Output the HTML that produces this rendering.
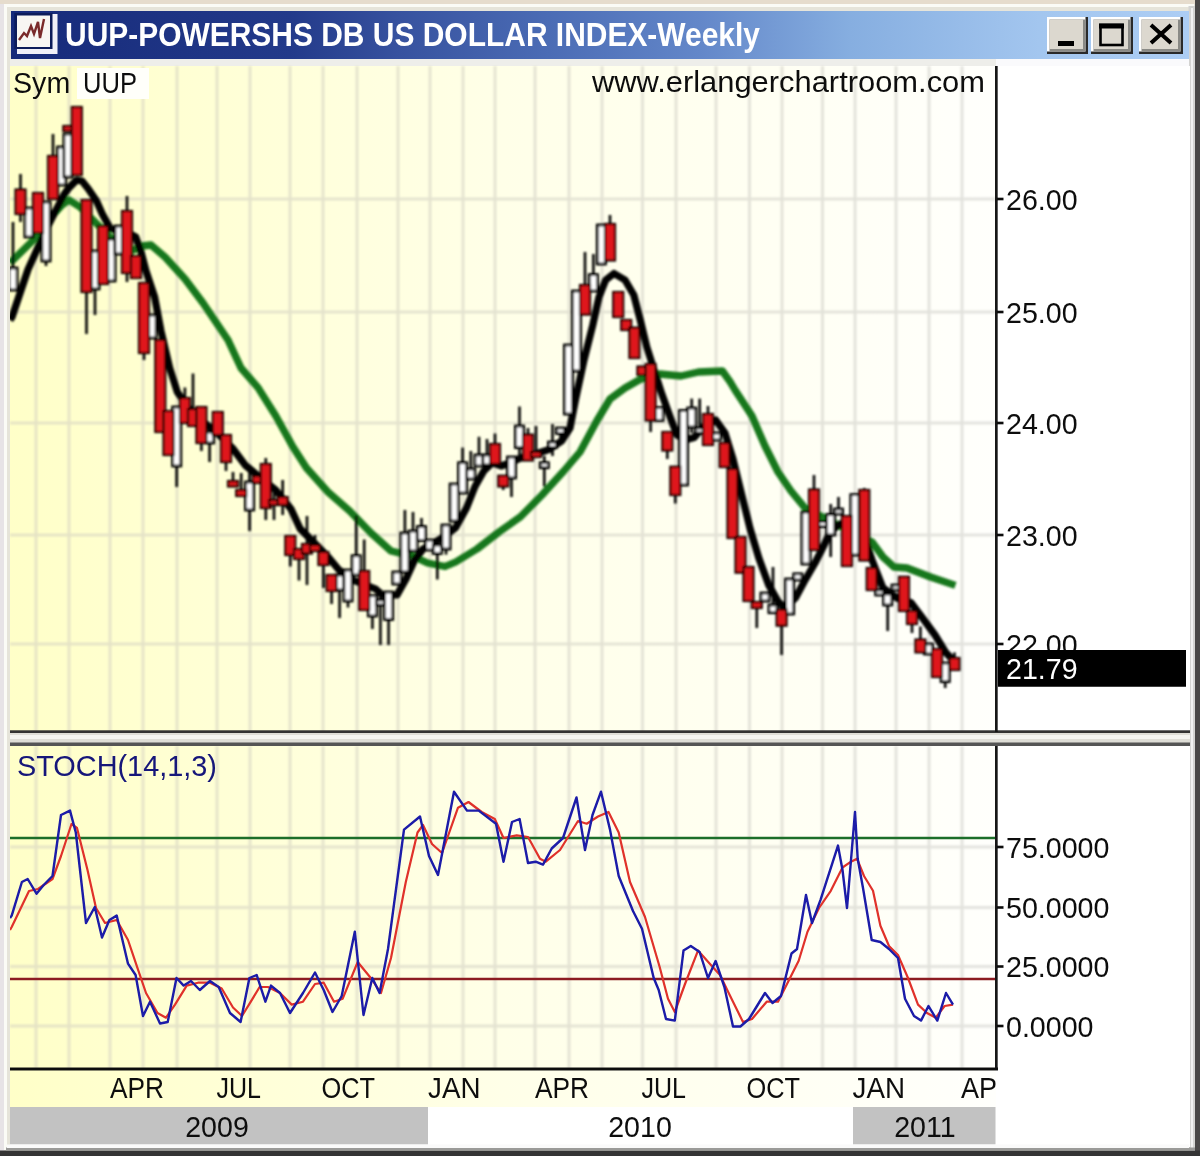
<!DOCTYPE html>
<html><head><meta charset="utf-8"><title>UUP</title>
<style>
html,body{margin:0;padding:0;background:#e6e4da;}
body{width:1200px;height:1156px;overflow:hidden;position:relative;font-family:"Liberation Sans",sans-serif;}
svg{position:absolute;left:0;top:0;display:block}
text{font-family:"Liberation Sans",sans-serif;}
</style></head><body>
<svg width="1200" height="1156" viewBox="0 0 1200 1156">
<defs>
<linearGradient id="tb" x1="0" x2="1" y1="0" y2="0"><stop offset="0" stop-color="#162a7a"/><stop offset="0.237" stop-color="#233a8a"/><stop offset="0.33" stop-color="#37529f"/><stop offset="0.457" stop-color="#4b6cb5"/><stop offset="0.585" stop-color="#6387c9"/><stop offset="0.712" stop-color="#86aee0"/><stop offset="0.873" stop-color="#a3c6ef"/><stop offset="1" stop-color="#accdf4"/></linearGradient>
<linearGradient id="bg" x1="0" x2="1" y1="0" y2="0"><stop offset="0" stop-color="#ffffc8"/><stop offset="0.5" stop-color="#ffffe8"/><stop offset="1" stop-color="#fffffc"/></linearGradient>
<filter id="bl" x="-2%" y="-2%" width="104%" height="104%"><feGaussianBlur stdDeviation="0.9"/></filter>
<filter id="bl2" x="-2%" y="-2%" width="104%" height="104%"><feGaussianBlur stdDeviation="0.7"/></filter>
<clipPath id="cm"><rect x="10" y="66" width="986" height="666"/></clipPath>
<clipPath id="cs"><rect x="10" y="746" width="986" height="323"/></clipPath>
</defs>

<rect x="0" y="0" width="1200" height="1156" fill="#e6e4da"/>
<rect x="0" y="0" width="4" height="1156" fill="#e7e3e6"/>
<rect x="0" y="0" width="1200" height="4" fill="#e6dccd"/>
<rect x="4" y="4" width="1190" height="3" fill="#fbfbf6"/>
<rect x="4" y="4" width="3" height="1146" fill="#fbfbf6"/>
<rect x="1195" y="0" width="5" height="1156" fill="#4a4848"/>
<rect x="1188.5" y="6" width="6.5" height="1146" fill="#d4d4d2"/>
<rect x="1191" y="8" width="2" height="1140" fill="#f2f2f2"/>
<rect x="0" y="1150.5" width="1200" height="5.5" fill="#343434"/>
<rect x="6" y="1147.5" width="1189" height="3" fill="#9a9a98"/>
<rect x="11" y="11" width="1178" height="48" fill="url(#tb)"/>
<rect x="10" y="59" width="986" height="7" fill="#eeeeea"/>
<rect x="996" y="59" width="193" height="7" fill="#fafafc"/>
<rect x="10" y="66" width="1180" height="1081" fill="#ffffff"/>
<rect x="10" y="66" width="986" height="666" fill="url(#bg)"/>
<rect x="10" y="746" width="986" height="323" fill="url(#bg)"/>
<rect x="10" y="1069" width="986" height="38" fill="url(#bg)"/>
<linearGradient id="gg" gradientUnits="userSpaceOnUse" x1="10" x2="996" y1="0" y2="0"><stop offset="0" stop-color="#e5e3c4"/><stop offset="1" stop-color="#e2e2de"/></linearGradient>
<g stroke-width="2.8" filter="url(#bl)"><line x1="36" y1="66" x2="36" y2="732" stroke="#e5e3c5"/><line x1="36" y1="746" x2="36" y2="1069" stroke="#e5e3c5"/><line x1="69" y1="66" x2="69" y2="732" stroke="#e5e3c6"/><line x1="69" y1="746" x2="69" y2="1069" stroke="#e5e3c6"/><line x1="110" y1="66" x2="110" y2="732" stroke="#e5e3c7"/><line x1="110" y1="746" x2="110" y2="1069" stroke="#e5e3c7"/><line x1="143" y1="66" x2="143" y2="732" stroke="#e5e3c8"/><line x1="143" y1="746" x2="143" y2="1069" stroke="#e5e3c8"/><line x1="177" y1="66" x2="177" y2="732" stroke="#e4e3c8"/><line x1="177" y1="746" x2="177" y2="1069" stroke="#e4e3c8"/><line x1="217" y1="66" x2="217" y2="732" stroke="#e4e3c9"/><line x1="217" y1="746" x2="217" y2="1069" stroke="#e4e3c9"/><line x1="250" y1="66" x2="250" y2="732" stroke="#e4e3ca"/><line x1="250" y1="746" x2="250" y2="1069" stroke="#e4e3ca"/><line x1="290" y1="66" x2="290" y2="732" stroke="#e4e3cb"/><line x1="290" y1="746" x2="290" y2="1069" stroke="#e4e3cb"/><line x1="323" y1="66" x2="323" y2="732" stroke="#e4e3cc"/><line x1="323" y1="746" x2="323" y2="1069" stroke="#e4e3cc"/><line x1="357" y1="66" x2="357" y2="732" stroke="#e4e3cd"/><line x1="357" y1="746" x2="357" y2="1069" stroke="#e4e3cd"/><line x1="398" y1="66" x2="398" y2="732" stroke="#e4e3ce"/><line x1="398" y1="746" x2="398" y2="1069" stroke="#e4e3ce"/><line x1="430" y1="66" x2="430" y2="732" stroke="#e4e3cf"/><line x1="430" y1="746" x2="430" y2="1069" stroke="#e4e3cf"/><line x1="463" y1="66" x2="463" y2="732" stroke="#e4e3d0"/><line x1="463" y1="746" x2="463" y2="1069" stroke="#e4e3d0"/><line x1="495" y1="66" x2="495" y2="732" stroke="#e4e3d1"/><line x1="495" y1="746" x2="495" y2="1069" stroke="#e4e3d1"/><line x1="535" y1="66" x2="535" y2="732" stroke="#e3e2d2"/><line x1="535" y1="746" x2="535" y2="1069" stroke="#e3e2d2"/><line x1="569" y1="66" x2="569" y2="732" stroke="#e3e2d3"/><line x1="569" y1="746" x2="569" y2="1069" stroke="#e3e2d3"/><line x1="602" y1="66" x2="602" y2="732" stroke="#e3e2d4"/><line x1="602" y1="746" x2="602" y2="1069" stroke="#e3e2d4"/><line x1="642.5" y1="66" x2="642.5" y2="732" stroke="#e3e2d5"/><line x1="642.5" y1="746" x2="642.5" y2="1069" stroke="#e3e2d5"/><line x1="676" y1="66" x2="676" y2="732" stroke="#e3e2d6"/><line x1="676" y1="746" x2="676" y2="1069" stroke="#e3e2d6"/><line x1="716" y1="66" x2="716" y2="732" stroke="#e3e2d7"/><line x1="716" y1="746" x2="716" y2="1069" stroke="#e3e2d7"/><line x1="749.5" y1="66" x2="749.5" y2="732" stroke="#e3e2d8"/><line x1="749.5" y1="746" x2="749.5" y2="1069" stroke="#e3e2d8"/><line x1="782" y1="66" x2="782" y2="732" stroke="#e3e2d8"/><line x1="782" y1="746" x2="782" y2="1069" stroke="#e3e2d8"/><line x1="822.5" y1="66" x2="822.5" y2="732" stroke="#e3e2d9"/><line x1="822.5" y1="746" x2="822.5" y2="1069" stroke="#e3e2d9"/><line x1="855" y1="66" x2="855" y2="732" stroke="#e2e2da"/><line x1="855" y1="746" x2="855" y2="1069" stroke="#e2e2da"/><line x1="896" y1="66" x2="896" y2="732" stroke="#e2e2db"/><line x1="896" y1="746" x2="896" y2="1069" stroke="#e2e2db"/><line x1="929" y1="66" x2="929" y2="732" stroke="#e2e2dc"/><line x1="929" y1="746" x2="929" y2="1069" stroke="#e2e2dc"/><line x1="962" y1="66" x2="962" y2="732" stroke="#e2e2dd"/><line x1="962" y1="746" x2="962" y2="1069" stroke="#e2e2dd"/><rect x="10" y="197.6" width="986" height="2.8" fill="url(#gg)"/><rect x="10" y="310.6" width="986" height="2.8" fill="url(#gg)"/><rect x="10" y="421.6" width="986" height="2.8" fill="url(#gg)"/><rect x="10" y="533.6" width="986" height="2.8" fill="url(#gg)"/><rect x="10" y="642.6" width="986" height="2.8" fill="url(#gg)"/><rect x="10" y="845.6" width="986" height="2.8" fill="url(#gg)"/><rect x="10" y="906.1" width="986" height="2.8" fill="url(#gg)"/><rect x="10" y="965.1" width="986" height="2.8" fill="url(#gg)"/><rect x="10" y="1024.6" width="986" height="2.8" fill="url(#gg)"/></g>
<g clip-path="url(#cm)"><g filter="url(#bl)">
<polyline points="10.0,263.0 12.0,261.0 32.4,241.0 50.0,218.0 62.0,205.0 69.0,200.0 80.0,207.0 95.0,222.0 110.0,237.0 125.0,248.0 134.0,250.0 142.0,246.0 151.0,245.0 165.0,257.0 185.0,279.0 203.0,303.0 228.0,340.0 241.0,368.0 258.0,387.6 275.7,415.7 293.0,447.0 306.5,468.0 328.0,492.0 349.7,511.0 371.0,533.0 391.0,551.0 399.5,553.0 412.0,555.7 427.6,563.0 445.0,566.5 455.7,562.0 477.0,549.0 499.0,532.0 520.5,516.8 542.0,495.0 563.8,471.0 580.0,452.0 597.0,420.5 610.0,399.0 625.0,388.0 640.0,379.5 659.7,374.0 681.0,376.0 698.6,372.0 722.4,371.0 730.0,381.6 735.0,390.0 752.0,416.0 765.0,446.0 778.0,472.0 791.0,491.0 805.0,508.0 840.0,526.0 872.0,542.0 883.0,557.0 894.0,567.0 907.0,568.0 930.5,577.0 955.4,585.4" fill="none" stroke="#17771a" stroke-width="7.3" stroke-linejoin="round" stroke-linecap="butt"/>
<polyline points="10.0,320.0 12.0,317.0 28.0,269.5 45.0,232.0 55.0,212.0 64.0,194.6 68.4,188.4 76.7,180.0 82.0,181.0 88.0,188.4 96.4,200.8 102.3,214.0 110.0,228.0 120.0,232.0 130.0,234.0 135.7,237.0 141.0,252.0 146.0,271.0 154.6,297.0 161.0,331.0 169.7,368.0 177.3,392.0 190.0,410.0 203.0,422.0 215.0,431.0 232.4,448.0 245.4,465.4 258.4,476.0 275.7,490.0 291.0,509.0 300.0,528.6 313.0,541.6 328.0,556.8 339.0,570.0 354.0,580.5 375.7,589.0 382.0,595.0 397.0,595.0 406.0,579.0 414.6,560.0 423.0,549.0 434.0,542.7 445.0,536.0 455.7,527.6 466.5,508.0 475.0,486.5 483.8,471.0 492.4,462.7 501.0,466.0 510.0,463.0 520.5,458.0 535.7,454.0 548.6,449.7 561.6,441.0 570.0,428.0 575.4,400.0 584.0,360.0 592.7,325.4 599.0,297.0 605.7,280.0 614.0,273.5 625.0,280.0 633.8,295.0 640.0,319.0 646.8,347.0 653.0,366.5 662.0,394.6 670.5,418.0 677.0,435.0 685.0,440.0 694.0,437.6 705.0,425.0 715.7,420.0 725.0,433.0 733.0,459.0 741.5,493.8 750.0,528.4 759.0,558.6 768.5,584.6 778.4,602.0 785.0,608.0 795.7,597.6 804.0,582.0 815.0,563.0 823.8,545.7 830.0,532.0 840.0,524.0 852.0,522.0 862.0,530.0 872.0,560.0 883.0,588.0 897.0,598.0 911.0,602.7 924.0,620.0 935.0,635.0 945.7,652.4 952.0,659.0" fill="none" stroke="#000" stroke-width="7.2" stroke-linejoin="round"/>
<line x1="13" y1="222" x2="13" y2="290" stroke="#000" stroke-width="2.6"/>
<rect x="8.9" y="268" width="8.2" height="22.0" fill="#ffffff" stroke="#000" stroke-width="2.8"/>
<line x1="29" y1="208" x2="29" y2="237" stroke="#000" stroke-width="2.6"/>
<rect x="24.9" y="208" width="8.2" height="29.0" fill="#ffffff" stroke="#000" stroke-width="2.8"/>
<line x1="46" y1="202" x2="46" y2="266" stroke="#000" stroke-width="2.6"/>
<rect x="41.9" y="202" width="8.2" height="59.0" fill="#ffffff" stroke="#000" stroke-width="2.8"/>
<line x1="61.6" y1="147" x2="61.6" y2="185" stroke="#000" stroke-width="2.6"/>
<rect x="57.5" y="147" width="8.2" height="38.0" fill="#ffffff" stroke="#000" stroke-width="2.8"/>
<line x1="68" y1="134" x2="68" y2="177" stroke="#000" stroke-width="2.6"/>
<rect x="63.9" y="134" width="8.2" height="43.0" fill="#ffffff" stroke="#000" stroke-width="2.8"/>
<line x1="95" y1="251" x2="95" y2="315" stroke="#000" stroke-width="2.6"/>
<rect x="90.9" y="251" width="8.2" height="38.0" fill="#ffffff" stroke="#000" stroke-width="2.8"/>
<line x1="111" y1="239" x2="111" y2="281" stroke="#000" stroke-width="2.6"/>
<rect x="106.9" y="239" width="8.2" height="42.0" fill="#ffffff" stroke="#000" stroke-width="2.8"/>
<line x1="119" y1="226" x2="119" y2="254" stroke="#000" stroke-width="2.6"/>
<rect x="114.9" y="226" width="8.2" height="28.0" fill="#ffffff" stroke="#000" stroke-width="2.8"/>
<line x1="152" y1="315" x2="152" y2="338" stroke="#000" stroke-width="2.6"/>
<rect x="147.9" y="315" width="8.2" height="23.0" fill="#ffffff" stroke="#000" stroke-width="2.8"/>
<line x1="176.7" y1="407" x2="176.7" y2="487" stroke="#000" stroke-width="2.6"/>
<rect x="172.6" y="407" width="8.2" height="59.0" fill="#ffffff" stroke="#000" stroke-width="2.8"/>
<line x1="209.6" y1="432" x2="209.6" y2="462" stroke="#000" stroke-width="2.6"/>
<rect x="205.5" y="432" width="8.2" height="11.0" fill="#ffffff" stroke="#000" stroke-width="2.8"/>
<line x1="249.6" y1="472" x2="249.6" y2="531" stroke="#000" stroke-width="2.6"/>
<rect x="245.5" y="482" width="8.2" height="28.0" fill="#ffffff" stroke="#000" stroke-width="2.8"/>
<line x1="339.6" y1="575" x2="339.6" y2="618" stroke="#000" stroke-width="2.6"/>
<rect x="335.5" y="575" width="8.2" height="15.0" fill="#ffffff" stroke="#000" stroke-width="2.8"/>
<line x1="348" y1="570" x2="348" y2="607.5" stroke="#000" stroke-width="2.6"/>
<rect x="343.9" y="570" width="8.2" height="31.0" fill="#ffffff" stroke="#000" stroke-width="2.8"/>
<line x1="356.2" y1="515.7" x2="356.2" y2="575" stroke="#000" stroke-width="2.6"/>
<rect x="352.1" y="555.7" width="8.2" height="19.3" fill="#ffffff" stroke="#000" stroke-width="2.8"/>
<line x1="372.4" y1="595.7" x2="372.4" y2="629" stroke="#000" stroke-width="2.6"/>
<rect x="368.3" y="595.7" width="8.2" height="20.3" fill="#ffffff" stroke="#000" stroke-width="2.8"/>
<line x1="380.4" y1="589" x2="380.4" y2="645" stroke="#000" stroke-width="2.6"/>
<rect x="376.3" y="600" width="8.2" height="5.0" fill="#ffffff" stroke="#000" stroke-width="2.8"/>
<line x1="388.6" y1="592" x2="388.6" y2="645" stroke="#000" stroke-width="2.6"/>
<rect x="384.5" y="592" width="8.2" height="27.5" fill="#ffffff" stroke="#000" stroke-width="2.8"/>
<line x1="396.9" y1="572" x2="396.9" y2="584" stroke="#000" stroke-width="2.6"/>
<rect x="392.8" y="572" width="8.2" height="12.0" fill="#ffffff" stroke="#000" stroke-width="2.8"/>
<line x1="404.9" y1="510" x2="404.9" y2="572" stroke="#000" stroke-width="2.6"/>
<rect x="400.8" y="533" width="8.2" height="39.0" fill="#ffffff" stroke="#000" stroke-width="2.8"/>
<line x1="413" y1="512" x2="413" y2="551" stroke="#000" stroke-width="2.6"/>
<rect x="408.9" y="531" width="8.2" height="20.0" fill="#ffffff" stroke="#000" stroke-width="2.8"/>
<line x1="421.5" y1="518" x2="421.5" y2="540.5" stroke="#000" stroke-width="2.6"/>
<rect x="417.4" y="526.5" width="8.2" height="14.0" fill="#ffffff" stroke="#000" stroke-width="2.8"/>
<line x1="429.7" y1="540" x2="429.7" y2="550" stroke="#000" stroke-width="2.6"/>
<rect x="425.6" y="540" width="8.2" height="10.0" fill="#ffffff" stroke="#000" stroke-width="2.8"/>
<line x1="437.3" y1="545" x2="437.3" y2="579.5" stroke="#000" stroke-width="2.6"/>
<rect x="433.2" y="545" width="8.2" height="8.5" fill="#ffffff" stroke="#000" stroke-width="2.8"/>
<line x1="446" y1="525" x2="446" y2="554.6" stroke="#000" stroke-width="2.6"/>
<rect x="441.9" y="525" width="8.2" height="24.0" fill="#ffffff" stroke="#000" stroke-width="2.8"/>
<line x1="454.2" y1="484" x2="454.2" y2="521" stroke="#000" stroke-width="2.6"/>
<rect x="450.1" y="484" width="8.2" height="37.0" fill="#ffffff" stroke="#000" stroke-width="2.8"/>
<line x1="462.6" y1="447.6" x2="462.6" y2="493" stroke="#000" stroke-width="2.6"/>
<rect x="458.5" y="462.7" width="8.2" height="30.3" fill="#ffffff" stroke="#000" stroke-width="2.8"/>
<line x1="470.8" y1="451" x2="470.8" y2="479" stroke="#000" stroke-width="2.6"/>
<rect x="466.7" y="469" width="8.2" height="10.0" fill="#ffffff" stroke="#000" stroke-width="2.8"/>
<line x1="479" y1="436.8" x2="479" y2="466" stroke="#000" stroke-width="2.6"/>
<rect x="474.9" y="455" width="8.2" height="11.0" fill="#ffffff" stroke="#000" stroke-width="2.8"/>
<line x1="487" y1="439" x2="487" y2="465" stroke="#000" stroke-width="2.6"/>
<rect x="482.9" y="455" width="8.2" height="10.0" fill="#ffffff" stroke="#000" stroke-width="2.8"/>
<line x1="511.5" y1="457" x2="511.5" y2="497" stroke="#000" stroke-width="2.6"/>
<rect x="507.4" y="457" width="8.2" height="21.0" fill="#ffffff" stroke="#000" stroke-width="2.8"/>
<line x1="519.5" y1="406.5" x2="519.5" y2="455" stroke="#000" stroke-width="2.6"/>
<rect x="515.4" y="426" width="8.2" height="21.6" fill="#ffffff" stroke="#000" stroke-width="2.8"/>
<line x1="544.3" y1="456" x2="544.3" y2="486.5" stroke="#000" stroke-width="2.6"/>
<rect x="540.2" y="462.7" width="8.2" height="5.0" fill="#ffffff" stroke="#000" stroke-width="2.8"/>
<line x1="552.5" y1="424" x2="552.5" y2="456" stroke="#000" stroke-width="2.6"/>
<rect x="548.4" y="442" width="8.2" height="5.6" fill="#ffffff" stroke="#000" stroke-width="2.8"/>
<line x1="560.5" y1="428" x2="560.5" y2="440" stroke="#000" stroke-width="2.6"/>
<rect x="556.4" y="428" width="8.2" height="5.5" fill="#ffffff" stroke="#000" stroke-width="2.8"/>
<line x1="568.5" y1="345" x2="568.5" y2="414" stroke="#000" stroke-width="2.6"/>
<rect x="564.4" y="345" width="8.2" height="69.0" fill="#ffffff" stroke="#000" stroke-width="2.8"/>
<line x1="576.5" y1="291" x2="576.5" y2="371" stroke="#000" stroke-width="2.6"/>
<rect x="572.4" y="291" width="8.2" height="80.0" fill="#ffffff" stroke="#000" stroke-width="2.8"/>
<line x1="593.4" y1="254" x2="593.4" y2="291" stroke="#000" stroke-width="2.6"/>
<rect x="589.3" y="274.6" width="8.2" height="16.4" fill="#ffffff" stroke="#000" stroke-width="2.8"/>
<line x1="601.4" y1="225" x2="601.4" y2="264" stroke="#000" stroke-width="2.6"/>
<rect x="597.3" y="225" width="8.2" height="39.0" fill="#ffffff" stroke="#000" stroke-width="2.8"/>
<line x1="659" y1="407.6" x2="659" y2="420.5" stroke="#000" stroke-width="2.6"/>
<rect x="654.9" y="407.6" width="8.2" height="12.9" fill="#ffffff" stroke="#000" stroke-width="2.8"/>
<line x1="683.5" y1="410.5" x2="683.5" y2="485" stroke="#000" stroke-width="2.6"/>
<rect x="679.4" y="410.5" width="8.2" height="74.5" fill="#ffffff" stroke="#000" stroke-width="2.8"/>
<line x1="691.7" y1="398.6" x2="691.7" y2="433" stroke="#000" stroke-width="2.6"/>
<rect x="687.6" y="408" width="8.2" height="19.0" fill="#ffffff" stroke="#000" stroke-width="2.8"/>
<line x1="699.7" y1="398.6" x2="699.7" y2="433" stroke="#000" stroke-width="2.6"/>
<rect x="695.6" y="428" width="8.2" height="5.0" fill="#ffffff" stroke="#000" stroke-width="2.8"/>
<line x1="716.4" y1="433" x2="716.4" y2="440" stroke="#000" stroke-width="2.6"/>
<rect x="712.3" y="433" width="8.2" height="7.0" fill="#ffffff" stroke="#000" stroke-width="2.8"/>
<line x1="765" y1="593" x2="765" y2="601" stroke="#000" stroke-width="2.6"/>
<rect x="760.9" y="593" width="8.2" height="8.0" fill="#ffffff" stroke="#000" stroke-width="2.8"/>
<line x1="773" y1="567" x2="773" y2="612.7" stroke="#000" stroke-width="2.6"/>
<rect x="768.9" y="605" width="8.2" height="7.7" fill="#ffffff" stroke="#000" stroke-width="2.8"/>
<line x1="789.6" y1="579" x2="789.6" y2="614" stroke="#000" stroke-width="2.6"/>
<rect x="785.5" y="579" width="8.2" height="35.0" fill="#ffffff" stroke="#000" stroke-width="2.8"/>
<line x1="797.8" y1="573.8" x2="797.8" y2="580" stroke="#000" stroke-width="2.6"/>
<rect x="793.7" y="573.8" width="8.2" height="6.2" fill="#ffffff" stroke="#000" stroke-width="2.8"/>
<line x1="806" y1="512" x2="806" y2="564" stroke="#000" stroke-width="2.6"/>
<rect x="801.9" y="512" width="8.2" height="52.0" fill="#ffffff" stroke="#000" stroke-width="2.8"/>
<line x1="822.7" y1="521.6" x2="822.7" y2="526" stroke="#000" stroke-width="2.6"/>
<rect x="818.6" y="521.6" width="8.2" height="5.0" fill="#ffffff" stroke="#000" stroke-width="2.8"/>
<line x1="830.7" y1="504" x2="830.7" y2="557" stroke="#000" stroke-width="2.6"/>
<rect x="826.6" y="514.5" width="8.2" height="20.5" fill="#ffffff" stroke="#000" stroke-width="2.8"/>
<line x1="838.5" y1="497" x2="838.5" y2="513" stroke="#000" stroke-width="2.6"/>
<rect x="834.4" y="509" width="8.2" height="5.0" fill="#ffffff" stroke="#000" stroke-width="2.8"/>
<line x1="854.9" y1="494.6" x2="854.9" y2="555" stroke="#000" stroke-width="2.6"/>
<rect x="850.8" y="494.6" width="8.2" height="60.4" fill="#ffffff" stroke="#000" stroke-width="2.8"/>
<line x1="879.7" y1="590" x2="879.7" y2="595" stroke="#000" stroke-width="2.6"/>
<rect x="875.6" y="590" width="8.2" height="5.0" fill="#ffffff" stroke="#000" stroke-width="2.8"/>
<line x1="887.7" y1="594" x2="887.7" y2="631" stroke="#000" stroke-width="2.6"/>
<rect x="883.6" y="594" width="8.2" height="11.0" fill="#ffffff" stroke="#000" stroke-width="2.8"/>
<line x1="896" y1="585" x2="896" y2="590" stroke="#000" stroke-width="2.6"/>
<rect x="891.9" y="585" width="8.2" height="5.0" fill="#ffffff" stroke="#000" stroke-width="2.8"/>
<line x1="928.4" y1="644" x2="928.4" y2="654" stroke="#000" stroke-width="2.6"/>
<rect x="924.3" y="644" width="8.2" height="10.0" fill="#ffffff" stroke="#000" stroke-width="2.8"/>
<line x1="945.2" y1="663" x2="945.2" y2="688" stroke="#000" stroke-width="2.6"/>
<rect x="941.1" y="663" width="8.2" height="18.6" fill="#ffffff" stroke="#000" stroke-width="2.8"/>
<line x1="20.5" y1="174" x2="20.5" y2="222" stroke="#000" stroke-width="2.6"/>
<rect x="15.5" y="189.5" width="10.0" height="24.5" fill="#e0181c" stroke="#1a0000" stroke-width="2.2"/>
<line x1="38" y1="193" x2="38" y2="233" stroke="#000" stroke-width="2.6"/>
<rect x="33.0" y="193" width="10.0" height="40.0" fill="#e0181c" stroke="#1a0000" stroke-width="2.2"/>
<line x1="53" y1="134" x2="53" y2="199" stroke="#000" stroke-width="2.6"/>
<rect x="48.0" y="156" width="10.0" height="43.0" fill="#e0181c" stroke="#1a0000" stroke-width="2.2"/>
<line x1="68.3" y1="126" x2="68.3" y2="131" stroke="#000" stroke-width="2.6"/>
<rect x="63.3" y="126" width="10.0" height="5.0" fill="#e0181c" stroke="#1a0000" stroke-width="2.2"/>
<line x1="76.8" y1="107" x2="76.8" y2="175" stroke="#000" stroke-width="2.6"/>
<rect x="71.8" y="107" width="10.0" height="68.0" fill="#e0181c" stroke="#1a0000" stroke-width="2.2"/>
<line x1="86.5" y1="200" x2="86.5" y2="334" stroke="#000" stroke-width="2.6"/>
<rect x="81.5" y="200" width="10.0" height="92.0" fill="#e0181c" stroke="#1a0000" stroke-width="2.2"/>
<line x1="103" y1="226" x2="103" y2="284" stroke="#000" stroke-width="2.6"/>
<rect x="98.0" y="226" width="10.0" height="58.0" fill="#e0181c" stroke="#1a0000" stroke-width="2.2"/>
<line x1="127" y1="196" x2="127" y2="282" stroke="#000" stroke-width="2.6"/>
<rect x="122.0" y="211" width="10.0" height="62.0" fill="#e0181c" stroke="#1a0000" stroke-width="2.2"/>
<line x1="136" y1="256" x2="136" y2="278" stroke="#000" stroke-width="2.6"/>
<rect x="131.0" y="256" width="10.0" height="22.0" fill="#e0181c" stroke="#1a0000" stroke-width="2.2"/>
<line x1="144" y1="283" x2="144" y2="360" stroke="#000" stroke-width="2.6"/>
<rect x="139.0" y="283" width="10.0" height="70.0" fill="#e0181c" stroke="#1a0000" stroke-width="2.2"/>
<line x1="160.3" y1="340" x2="160.3" y2="432" stroke="#000" stroke-width="2.6"/>
<rect x="155.3" y="340" width="10.0" height="92.0" fill="#e0181c" stroke="#1a0000" stroke-width="2.2"/>
<line x1="168.5" y1="411" x2="168.5" y2="455" stroke="#000" stroke-width="2.6"/>
<rect x="163.5" y="411" width="10.0" height="44.0" fill="#e0181c" stroke="#1a0000" stroke-width="2.2"/>
<line x1="184.9" y1="387.5" x2="184.9" y2="423" stroke="#000" stroke-width="2.6"/>
<rect x="179.9" y="398" width="10.0" height="25.0" fill="#e0181c" stroke="#1a0000" stroke-width="2.2"/>
<line x1="193" y1="373.5" x2="193" y2="426" stroke="#000" stroke-width="2.6"/>
<rect x="188.0" y="409" width="10.0" height="17.0" fill="#e0181c" stroke="#1a0000" stroke-width="2.2"/>
<line x1="201.4" y1="407" x2="201.4" y2="451" stroke="#000" stroke-width="2.6"/>
<rect x="196.4" y="407" width="10.0" height="36.0" fill="#e0181c" stroke="#1a0000" stroke-width="2.2"/>
<line x1="217.8" y1="412" x2="217.8" y2="435" stroke="#000" stroke-width="2.6"/>
<rect x="212.8" y="412" width="10.0" height="23.0" fill="#e0181c" stroke="#1a0000" stroke-width="2.2"/>
<line x1="226" y1="435" x2="226" y2="471" stroke="#000" stroke-width="2.6"/>
<rect x="221.0" y="435" width="10.0" height="27.0" fill="#e0181c" stroke="#1a0000" stroke-width="2.2"/>
<line x1="233" y1="472" x2="233" y2="486.5" stroke="#000" stroke-width="2.6"/>
<rect x="228.0" y="481" width="10.0" height="5.5" fill="#e0181c" stroke="#1a0000" stroke-width="2.2"/>
<line x1="241.2" y1="473" x2="241.2" y2="496" stroke="#000" stroke-width="2.6"/>
<rect x="236.2" y="490" width="10.0" height="6.0" fill="#e0181c" stroke="#1a0000" stroke-width="2.2"/>
<line x1="257.8" y1="476" x2="257.8" y2="483" stroke="#000" stroke-width="2.6"/>
<rect x="252.8" y="476" width="10.0" height="7.0" fill="#e0181c" stroke="#1a0000" stroke-width="2.2"/>
<line x1="265.8" y1="458" x2="265.8" y2="520" stroke="#000" stroke-width="2.6"/>
<rect x="260.8" y="464" width="10.0" height="44.0" fill="#e0181c" stroke="#1a0000" stroke-width="2.2"/>
<line x1="274" y1="488" x2="274" y2="520" stroke="#000" stroke-width="2.6"/>
<rect x="269.0" y="500" width="10.0" height="5.0" fill="#e0181c" stroke="#1a0000" stroke-width="2.2"/>
<line x1="282.7" y1="480" x2="282.7" y2="515" stroke="#000" stroke-width="2.6"/>
<rect x="277.7" y="497" width="10.0" height="8.0" fill="#e0181c" stroke="#1a0000" stroke-width="2.2"/>
<line x1="290.3" y1="536" x2="290.3" y2="566.5" stroke="#000" stroke-width="2.6"/>
<rect x="285.3" y="536" width="10.0" height="19.0" fill="#e0181c" stroke="#1a0000" stroke-width="2.2"/>
<line x1="299" y1="549" x2="299" y2="580.5" stroke="#000" stroke-width="2.6"/>
<rect x="294.0" y="549" width="10.0" height="10.0" fill="#e0181c" stroke="#1a0000" stroke-width="2.2"/>
<line x1="307" y1="516" x2="307" y2="585" stroke="#000" stroke-width="2.6"/>
<rect x="302.0" y="544" width="10.0" height="9.5" fill="#e0181c" stroke="#1a0000" stroke-width="2.2"/>
<line x1="315" y1="535" x2="315" y2="551" stroke="#000" stroke-width="2.6"/>
<rect x="310.0" y="545" width="10.0" height="6.0" fill="#e0181c" stroke="#1a0000" stroke-width="2.2"/>
<line x1="323.4" y1="552" x2="323.4" y2="588" stroke="#000" stroke-width="2.6"/>
<rect x="318.4" y="552" width="10.0" height="13.0" fill="#e0181c" stroke="#1a0000" stroke-width="2.2"/>
<line x1="331.6" y1="575" x2="331.6" y2="604" stroke="#000" stroke-width="2.6"/>
<rect x="326.6" y="575" width="10.0" height="16.0" fill="#e0181c" stroke="#1a0000" stroke-width="2.2"/>
<line x1="364.2" y1="539.5" x2="364.2" y2="610" stroke="#000" stroke-width="2.6"/>
<rect x="359.2" y="571" width="10.0" height="39.0" fill="#e0181c" stroke="#1a0000" stroke-width="2.2"/>
<line x1="495" y1="433.5" x2="495" y2="464" stroke="#000" stroke-width="2.6"/>
<rect x="490.0" y="444" width="10.0" height="20.0" fill="#e0181c" stroke="#1a0000" stroke-width="2.2"/>
<line x1="503.2" y1="475.7" x2="503.2" y2="490" stroke="#000" stroke-width="2.6"/>
<rect x="498.2" y="475.7" width="10.0" height="10.8" fill="#e0181c" stroke="#1a0000" stroke-width="2.2"/>
<line x1="528" y1="428" x2="528" y2="460.5" stroke="#000" stroke-width="2.6"/>
<rect x="523.0" y="434.6" width="10.0" height="25.9" fill="#e0181c" stroke="#1a0000" stroke-width="2.2"/>
<line x1="536" y1="426" x2="536" y2="457" stroke="#000" stroke-width="2.6"/>
<rect x="531.0" y="452" width="10.0" height="5.0" fill="#e0181c" stroke="#1a0000" stroke-width="2.2"/>
<line x1="585" y1="252" x2="585" y2="314.6" stroke="#000" stroke-width="2.6"/>
<rect x="580.0" y="285" width="10.0" height="29.6" fill="#e0181c" stroke="#1a0000" stroke-width="2.2"/>
<line x1="610" y1="215" x2="610" y2="260.5" stroke="#000" stroke-width="2.6"/>
<rect x="605.0" y="224" width="10.0" height="36.5" fill="#e0181c" stroke="#1a0000" stroke-width="2.2"/>
<line x1="618.2" y1="292" x2="618.2" y2="317" stroke="#000" stroke-width="2.6"/>
<rect x="613.2" y="292" width="10.0" height="25.0" fill="#e0181c" stroke="#1a0000" stroke-width="2.2"/>
<line x1="626.2" y1="320" x2="626.2" y2="330" stroke="#000" stroke-width="2.6"/>
<rect x="621.2" y="320" width="10.0" height="10.0" fill="#e0181c" stroke="#1a0000" stroke-width="2.2"/>
<line x1="634.4" y1="327.6" x2="634.4" y2="358" stroke="#000" stroke-width="2.6"/>
<rect x="629.4" y="327.6" width="10.0" height="30.4" fill="#e0181c" stroke="#1a0000" stroke-width="2.2"/>
<line x1="642.4" y1="366.5" x2="642.4" y2="375" stroke="#000" stroke-width="2.6"/>
<rect x="637.4" y="366.5" width="10.0" height="8.5" fill="#e0181c" stroke="#1a0000" stroke-width="2.2"/>
<line x1="650.6" y1="364" x2="650.6" y2="432" stroke="#000" stroke-width="2.6"/>
<rect x="645.6" y="364" width="10.0" height="56.5" fill="#e0181c" stroke="#1a0000" stroke-width="2.2"/>
<line x1="667.3" y1="432" x2="667.3" y2="459" stroke="#000" stroke-width="2.6"/>
<rect x="662.3" y="432" width="10.0" height="18.5" fill="#e0181c" stroke="#1a0000" stroke-width="2.2"/>
<line x1="675.3" y1="466.7" x2="675.3" y2="503.5" stroke="#000" stroke-width="2.6"/>
<rect x="670.3" y="466.7" width="10.0" height="28.3" fill="#e0181c" stroke="#1a0000" stroke-width="2.2"/>
<line x1="708" y1="406" x2="708" y2="445" stroke="#000" stroke-width="2.6"/>
<rect x="703.0" y="414" width="10.0" height="31.0" fill="#e0181c" stroke="#1a0000" stroke-width="2.2"/>
<line x1="724.6" y1="443" x2="724.6" y2="467" stroke="#000" stroke-width="2.6"/>
<rect x="719.6" y="443" width="10.0" height="24.0" fill="#e0181c" stroke="#1a0000" stroke-width="2.2"/>
<line x1="732.5" y1="469" x2="732.5" y2="538" stroke="#000" stroke-width="2.6"/>
<rect x="727.5" y="469" width="10.0" height="69.0" fill="#e0181c" stroke="#1a0000" stroke-width="2.2"/>
<line x1="740.5" y1="537" x2="740.5" y2="572.7" stroke="#000" stroke-width="2.6"/>
<rect x="735.5" y="537" width="10.0" height="35.7" fill="#e0181c" stroke="#1a0000" stroke-width="2.2"/>
<line x1="748.5" y1="567" x2="748.5" y2="601" stroke="#000" stroke-width="2.6"/>
<rect x="743.5" y="567" width="10.0" height="34.0" fill="#e0181c" stroke="#1a0000" stroke-width="2.2"/>
<line x1="756.8" y1="602" x2="756.8" y2="628" stroke="#000" stroke-width="2.6"/>
<rect x="751.8" y="602" width="10.0" height="6.0" fill="#e0181c" stroke="#1a0000" stroke-width="2.2"/>
<line x1="781.6" y1="609.5" x2="781.6" y2="655" stroke="#000" stroke-width="2.6"/>
<rect x="776.6" y="609.5" width="10.0" height="16.2" fill="#e0181c" stroke="#1a0000" stroke-width="2.2"/>
<line x1="814" y1="475" x2="814" y2="550" stroke="#000" stroke-width="2.6"/>
<rect x="809.0" y="489.5" width="10.0" height="60.5" fill="#e0181c" stroke="#1a0000" stroke-width="2.2"/>
<line x1="846.9" y1="516" x2="846.9" y2="566" stroke="#000" stroke-width="2.6"/>
<rect x="841.9" y="516" width="10.0" height="50.0" fill="#e0181c" stroke="#1a0000" stroke-width="2.2"/>
<line x1="864.3" y1="488" x2="864.3" y2="560.5" stroke="#000" stroke-width="2.6"/>
<rect x="859.3" y="490" width="10.0" height="70.5" fill="#e0181c" stroke="#1a0000" stroke-width="2.2"/>
<line x1="871.7" y1="568" x2="871.7" y2="590" stroke="#000" stroke-width="2.6"/>
<rect x="866.7" y="568" width="10.0" height="22.0" fill="#e0181c" stroke="#1a0000" stroke-width="2.2"/>
<line x1="904" y1="576.8" x2="904" y2="611" stroke="#000" stroke-width="2.6"/>
<rect x="899.0" y="576.8" width="10.0" height="34.2" fill="#e0181c" stroke="#1a0000" stroke-width="2.2"/>
<line x1="912" y1="611" x2="912" y2="633" stroke="#000" stroke-width="2.6"/>
<rect x="907.0" y="611" width="10.0" height="13.0" fill="#e0181c" stroke="#1a0000" stroke-width="2.2"/>
<line x1="920.4" y1="626.5" x2="920.4" y2="652.4" stroke="#000" stroke-width="2.6"/>
<rect x="915.4" y="639.5" width="10.0" height="12.9" fill="#e0181c" stroke="#1a0000" stroke-width="2.2"/>
<line x1="937" y1="649" x2="937" y2="677" stroke="#000" stroke-width="2.6"/>
<rect x="932.0" y="649" width="10.0" height="28.0" fill="#e0181c" stroke="#1a0000" stroke-width="2.2"/>
<line x1="954.5" y1="652.4" x2="954.5" y2="670" stroke="#000" stroke-width="2.6"/>
<rect x="949.5" y="658" width="10.0" height="12.0" fill="#e0181c" stroke="#1a0000" stroke-width="2.2"/>
</g></g>
<g clip-path="url(#cs)"><g filter="url(#bl2)">
<line x1="10" y1="838" x2="996" y2="838" stroke="#1e6e2a" stroke-width="2.6"/>
<line x1="10" y1="979" x2="996" y2="979" stroke="#8c1c24" stroke-width="2.6"/>
<polyline points="10.0,930.0 11.7,927.0 29.0,891.0 38.0,889.0 52.5,879.0 61.0,856.0 71.5,824.0 77.0,828.0 87.5,870.0 96.0,908.0 105.0,923.0 116.7,920.0 128.0,940.0 137.0,966.7 146.0,993.0 157.5,1013.0 166.0,1017.7 175.0,1004.6 186.7,985.6 198.0,982.7 210.0,982.7 221.7,988.5 233.0,1007.5 242.0,1016.0 250.8,1001.7 259.6,987.0 268.0,987.0 280.0,993.0 291.7,1004.6 303.0,1001.7 315.0,984.0 323.7,982.7 334.0,1001.7 342.7,998.7 357.7,962.0 370.8,978.0 381.0,993.0 391.0,958.0 405.8,882.0 417.5,832.5 423.0,825.0 432.0,844.0 442.0,853.0 458.0,807.7 468.5,802.0 481.7,812.0 494.8,819.0 503.5,838.0 516.7,835.4 528.0,837.0 540.0,858.7 545.8,861.7 560.0,850.0 578.0,821.0 586.7,823.7 598.0,816.5 608.5,812.0 618.7,832.5 630.0,882.0 645.0,917.0 659.6,966.7 668.0,998.7 674.8,1012.0 685.0,984.0 698.0,950.6 709.8,963.7 720.0,975.0 728.7,993.0 743.0,1022.0 752.0,1019.0 766.7,1001.7 778.0,1001.7 787.0,984.0 798.7,960.8 807.5,931.7 819.0,908.0 830.8,890.8 842.5,867.5 851.0,861.7 857.0,858.7 864.0,876.0 873.0,890.8 880.4,925.8 889.0,946.0 898.0,955.0 908.0,978.0 918.0,1004.6 927.0,1013.0 935.8,1017.7 944.6,1006.0 953.0,1004.6" fill="none" stroke="#e0302a" stroke-width="2.2" stroke-linejoin="round"/>
<polyline points="10.0,918.0 11.7,915.6 21.9,882.0 27.7,879.0 36.5,893.7 43.7,885.0 52.5,876.0 61.0,815.0 70.0,810.6 75.8,832.5 86.0,923.0 94.8,907.0 102.0,937.5 109.4,920.0 116.7,915.6 128.0,963.7 135.6,975.0 143.0,1016.0 150.0,1001.7 160.0,1023.5 167.7,1022.0 176.5,978.0 183.7,985.6 191.0,981.0 199.8,990.0 210.0,981.0 218.7,987.0 230.0,1013.0 240.6,1022.0 249.4,978.0 256.7,975.0 265.4,1001.7 271.0,985.6 280.0,993.0 290.0,1013.0 303.0,993.0 315.0,972.5 323.7,990.0 332.5,1012.0 341.7,996.0 354.8,931.7 363.5,1015.0 372.3,978.0 379.6,993.0 388.0,949.0 404.0,829.6 420.0,816.5 429.0,856.0 438.0,875.0 454.0,791.7 467.0,810.6 478.7,810.6 496.0,823.7 503.5,861.7 512.0,822.0 519.6,819.0 528.0,863.0 535.6,861.7 543.0,864.6 551.7,848.5 563.0,838.0 576.5,797.5 585.0,850.0 592.5,815.0 601.0,791.7 610.0,829.6 618.7,876.0 633.0,911.0 642.0,928.7 653.7,978.0 658.7,990.0 666.0,1019.0 674.8,1020.6 683.5,950.6 690.8,946.0 699.6,952.0 708.0,978.0 715.6,961.0 724.4,987.0 733.0,1026.5 740.4,1026.5 749.0,1019.0 765.0,993.0 772.5,1003.0 781.0,996.0 791.5,953.5 797.0,949.0 806.0,895.0 812.0,923.0 820.6,899.6 838.0,845.6 842.5,870.0 847.0,908.0 855.0,812.0 857.7,858.7 863.0,888.0 871.7,940.0 880.4,942.0 889.0,949.0 898.0,958.0 905.0,998.7 914.0,1016.0 921.0,1020.6 928.5,1006.0 937.3,1020.6 946.0,993.0 953.0,1004.6" fill="none" stroke="#1a1aa8" stroke-width="2.4" stroke-linejoin="round"/>
</g></g>
<g filter="url(#bl2)">
<rect x="10" y="730.3" width="1180" height="3" fill="#303030"/>
<rect x="10" y="733" width="1180" height="10" fill="#deddd6"/>
<rect x="10" y="735" width="1180" height="4" fill="#f4f4f0"/>
<rect x="10" y="742.5" width="1180" height="3.5" fill="#555"/>
<rect x="995" y="66" width="2.7" height="666" fill="#181818"/>
<rect x="995" y="746" width="2.7" height="324" fill="#181818"/>
<rect x="10" y="1067.5" width="988" height="3" fill="#111"/>
<rect x="997" y="197.7" width="6.5" height="2.6" fill="#111"/>
<rect x="997" y="310.7" width="6.5" height="2.6" fill="#111"/>
<rect x="997" y="421.7" width="6.5" height="2.6" fill="#111"/>
<rect x="997" y="533.7" width="6.5" height="2.6" fill="#111"/>
<rect x="997" y="642.7" width="6.5" height="2.6" fill="#111"/>
<rect x="997" y="845.7" width="6.5" height="2.6" fill="#111"/>
<rect x="997" y="906.2" width="6.5" height="2.6" fill="#111"/>
<rect x="997" y="965.2" width="6.5" height="2.6" fill="#111"/>
<rect x="997" y="1024.7" width="6.5" height="2.6" fill="#111"/>
</g>
<rect x="10" y="1107" width="418" height="37.5" fill="#c2c2c2"/>
<rect x="428" y="1107" width="425" height="37.5" fill="#ffffff"/>
<rect x="853" y="1107" width="142.5" height="37.5" fill="#c2c2c2"/>
<rect x="7" y="1144.5" width="1182" height="3.5" fill="#fafafa"/>
<rect x="998" y="650" width="188" height="36.5" fill="#000"/>
<g font-size="29.6" fill="#111" filter="url(#bl2)">
<rect x="77" y="68" width="72" height="31" fill="#fffffa"/>
<text x="13.0" y="92.5" textLength="57.2" lengthAdjust="spacingAndGlyphs">Sym</text>
<text x="83.0" y="92.5" textLength="54.0" lengthAdjust="spacingAndGlyphs">UUP</text>
<text x="592.0" y="92" textLength="393.0" lengthAdjust="spacingAndGlyphs">www.erlangerchartroom.com</text>
<text x="1006.0" y="209.5" textLength="71.6" lengthAdjust="spacingAndGlyphs">26.00</text>
<text x="1006.0" y="322.5" textLength="71.6" lengthAdjust="spacingAndGlyphs">25.00</text>
<text x="1006.0" y="433.5" textLength="71.6" lengthAdjust="spacingAndGlyphs">24.00</text>
<text x="1006.0" y="545.5" textLength="71.6" lengthAdjust="spacingAndGlyphs">23.00</text>
<text x="1006.0" y="654.5" textLength="71.6" lengthAdjust="spacingAndGlyphs">22.00</text>
<rect x="998" y="650" width="188" height="36.5" fill="#000"/>
<text x="1006.0" y="679" textLength="71.6" lengthAdjust="spacingAndGlyphs" fill="#fff">21.79</text>
<text x="1006.0" y="857.5" textLength="103.4" lengthAdjust="spacingAndGlyphs">75.0000</text>
<text x="1006.0" y="918.0" textLength="103.4" lengthAdjust="spacingAndGlyphs">50.0000</text>
<text x="1006.0" y="977.0" textLength="103.4" lengthAdjust="spacingAndGlyphs">25.0000</text>
<text x="1006.0" y="1036.5" textLength="87.5" lengthAdjust="spacingAndGlyphs">0.0000</text>
<text x="110.0" y="1098" textLength="54.0" lengthAdjust="spacingAndGlyphs">APR</text>
<text x="216.5" y="1098" textLength="44.5" lengthAdjust="spacingAndGlyphs">JUL</text>
<text x="321.5" y="1098" textLength="53.5" lengthAdjust="spacingAndGlyphs">OCT</text>
<text x="428.0" y="1098" textLength="52.5" lengthAdjust="spacingAndGlyphs">JAN</text>
<text x="535.0" y="1098" textLength="54.0" lengthAdjust="spacingAndGlyphs">APR</text>
<text x="641.5" y="1098" textLength="44.5" lengthAdjust="spacingAndGlyphs">JUL</text>
<text x="746.5" y="1098" textLength="53.5" lengthAdjust="spacingAndGlyphs">OCT</text>
<text x="852.5" y="1098" textLength="52.5" lengthAdjust="spacingAndGlyphs">JAN</text>
<text x="961.0" y="1098" textLength="36.0" lengthAdjust="spacingAndGlyphs">AP</text>
<text x="185.2" y="1137" textLength="63.6" lengthAdjust="spacingAndGlyphs">2009</text>
<text x="608.2" y="1137" textLength="63.6" lengthAdjust="spacingAndGlyphs">2010</text>
<text x="894.2" y="1137" textLength="61.5" lengthAdjust="spacingAndGlyphs">2011</text>
<text x="17.0" y="776" textLength="200.0" lengthAdjust="spacingAndGlyphs" fill="#14147a">STOCH(14,1,3)</text>
</g>
<g filter="url(#bl2)">
<text x="65" y="46" font-size="34" font-weight="bold" fill="#fff" textLength="695" lengthAdjust="spacingAndGlyphs">UUP-POWERSHS DB US DOLLAR INDEX-Weekly</text>
<rect x="17" y="14" width="40.5" height="40" fill="#f0f0f8"/>
<rect x="14.5" y="13" width="38" height="36" fill="#0a1a5a"/>
<rect x="17" y="15.5" width="33" height="31.5" fill="#f8f6f2"/>
<polyline points="19,40 24,33 27,36 31,26 34,34 38,22 40,38 44,19" fill="none" stroke="#7a2a2a" stroke-width="2.4"/>
<rect x="1047" y="17" width="41" height="37" fill="#2a2a2a"/>
<rect x="1047" y="17" width="38.5" height="34.5" fill="#ffffff"/>
<rect x="1049.5" y="19.5" width="36" height="32" fill="#8a8a86"/>
<rect x="1049.5" y="19.5" width="33.5" height="29.5" fill="#dcd8cf"/>
<rect x="1091" y="17" width="42" height="37" fill="#2a2a2a"/>
<rect x="1091" y="17" width="39.5" height="34.5" fill="#ffffff"/>
<rect x="1093.5" y="19.5" width="37" height="32" fill="#8a8a86"/>
<rect x="1093.5" y="19.5" width="34.5" height="29.5" fill="#dcd8cf"/>
<rect x="1139" y="17" width="44" height="37" fill="#2a2a2a"/>
<rect x="1139" y="17" width="41.5" height="34.5" fill="#ffffff"/>
<rect x="1141.5" y="19.5" width="39" height="32" fill="#8a8a86"/>
<rect x="1141.5" y="19.5" width="36.5" height="29.5" fill="#dcd8cf"/>
<rect x="1058" y="41" width="16" height="5" fill="#000"/>
<rect x="1100.5" y="25" width="22" height="20" fill="none" stroke="#000" stroke-width="2.6"/><rect x="1099" y="23.5" width="25" height="5" fill="#000"/>
<path d="M1151,25 L1171,43 M1171,25 L1151,43" stroke="#000" stroke-width="4" fill="none"/>
</g>
</svg></body></html>
